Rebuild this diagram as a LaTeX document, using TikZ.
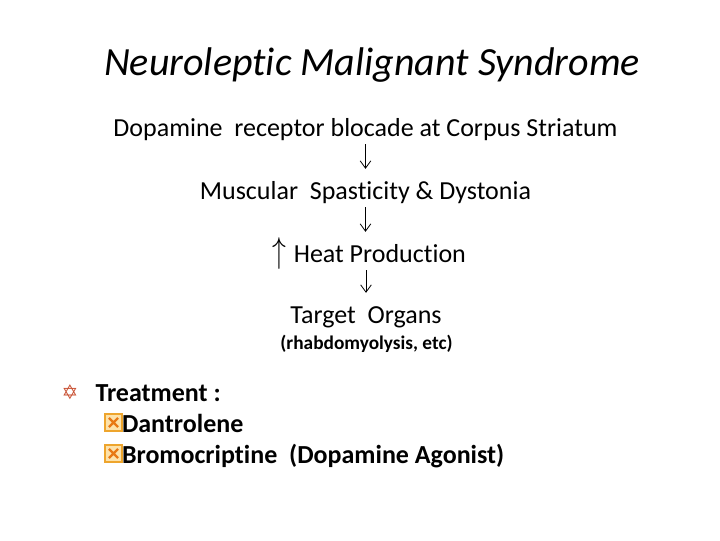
\documentclass[tikz,border=0pt]{standalone}
\usepackage{fontspec}
\setmainfont[Ligatures=NoCommon]{Carlito}
\newfontfamily\symfont{DejaVu Sans}
\usetikzlibrary{positioning,arrows.meta}
\definecolor{starred}{RGB}{200,80,50}
\definecolor{boxorange}{RGB}{238,165,45}
\definecolor{boxcross}{RGB}{232,120,20}
\definecolor{boxlight}{RGB}{253,226,170}

\tikzset{every picture/.style={line width=0.75pt}}
\tikzset{
  steptext/.style={anchor=base,inner sep=0.75pt,text height=14pt,text depth=4pt,font=\fontsize{19.5}{23}\selectfont},
  flowarrow/.style={-{Straight Barb[length=5.5pt,width=8pt]},line width=0.6pt,shorten <=1pt,shorten >=7.5pt},
  itemtext/.style={anchor=base west,inner sep=0.75pt,font=\fontsize{19.5}{23}\selectfont\bfseries},
  chkbox/.style={draw=boxorange,fill=boxlight,line width=1.5pt,minimum size=12.5pt,inner sep=0pt,
    path picture={\draw[boxcross,line width=1.8pt]
      ([shift={(2.8pt,-2.8pt)}]path picture bounding box.north west) -- ([shift={(-2.8pt,2.8pt)}]path picture bounding box.south east)
      ([shift={(-2.8pt,-2.8pt)}]path picture bounding box.north east) -- ([shift={(2.8pt,2.8pt)}]path picture bounding box.south west);}}
}

\begin{document}
\begin{tikzpicture}[x=0.75pt,y=0.75pt,yscale=-1,xscale=1]
\path[use as bounding box] (0,0) rectangle (720,540);

% Title
\node (title) [anchor=base,inner sep=0.75pt,font=\fontsize{30}{36}\selectfont\itshape] at (372,75) {Neuroleptic Malignant Syndrome};

% Text Node
\node (dop) [steptext] at (365.5,136) {Dopamine\ \ receptor blocade at Corpus Striatum};
% Text Node
\node (musc) [steptext] at (365.5,199) {Muscular\ \ Spasticity \& Dystonia};
% Text Node
\node (heat) [steptext] at (369,262) {$\scalebox{1}[1.3]{$\uparrow$}$\kern1.5pt\ Heat Production};
% Text Node
\node (organ) [steptext] at (366,323) {Target\ \ Organs};
% Text Node
\node (rhabdo) [anchor=base,inner sep=0.75pt,font=\fontsize{14.5}{17}\selectfont\bfseries] at (366.5,349) {(rhabdomyolysis, etc)};

%Straight Lines
\draw [flowarrow] (dop.south -| musc.south) -- (musc.north);
\draw [flowarrow] (musc.south) -- (musc.south |- heat.north);
\draw [flowarrow] (heat.south -| organ.south) -- (organ.north);

% Treatment
\node (star) [anchor=base,inner sep=0pt,text=starred,font=\symfont\fontsize{15}{17}\selectfont] at (70,399.5) {✡};
\node (treat) [itemtext] at (94,401) {Treatment :};
\node (dbox) [chkbox] at (113.5,422.5) {};
\node (dant) [itemtext] at (120.5,432) {Dantrolene};
\node (bbox) [chkbox] at (113.5,453.5) {};
\node (bromo) [itemtext] at (120.5,463) {Bromocriptine\ \ (Dopamine Agonist)};

\end{tikzpicture}
\end{document}
